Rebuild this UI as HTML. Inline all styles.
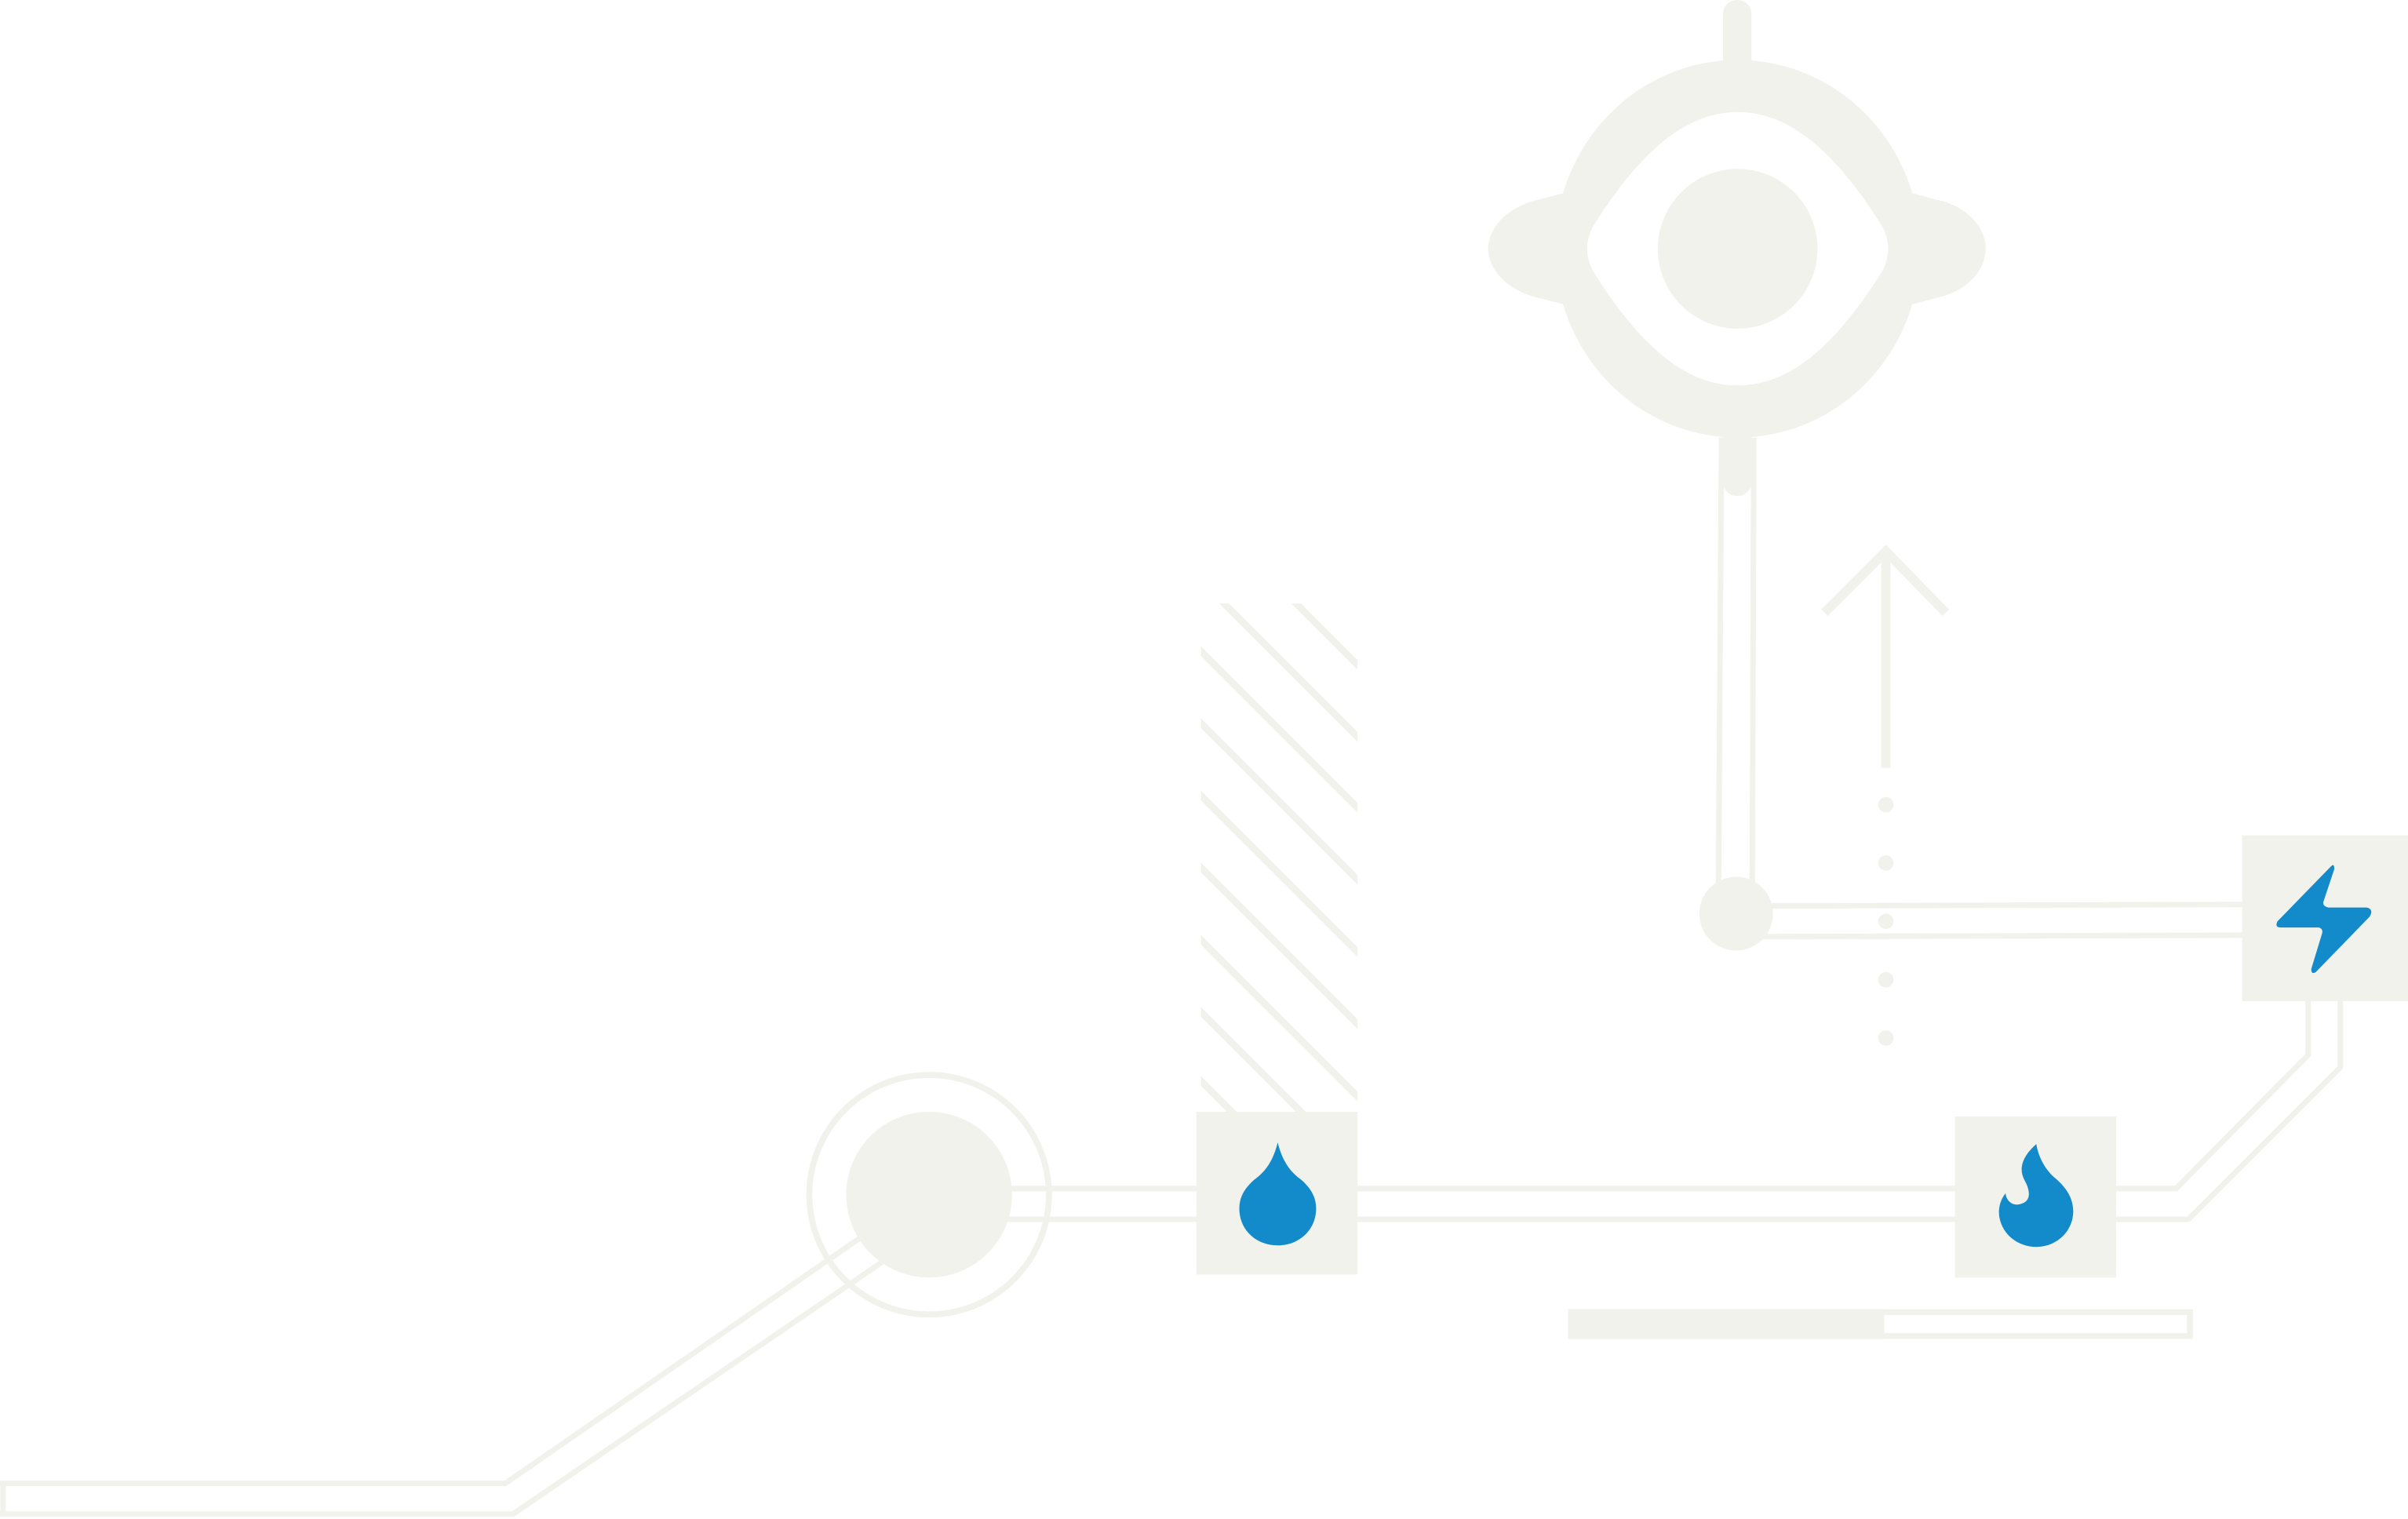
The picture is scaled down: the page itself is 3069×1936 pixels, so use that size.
<!DOCTYPE html>
<html><head><meta charset="utf-8"><style>
html,body{margin:0;padding:0;background:#fff;width:3069px;height:1936px;overflow:hidden}
svg{display:block}
</style></head><body>
<svg width="3069" height="1936" viewBox="0 0 1568 989.2" preserveAspectRatio="none" xmlns="http://www.w3.org/2000/svg">
<defs><clipPath id="hc"><rect x="782" y="393" width="102" height="331"/></clipPath></defs>
<g fill="none" stroke="#f2f2ec" stroke-width="3.6">
  <g clip-path="url(#hc)" stroke-width="4.5">
    <line x1="700" y1="249" x2="1000" y2="549"/>
    <line x1="700" y1="296" x2="1000" y2="596"/>
    <line x1="700" y1="342" x2="1000" y2="642"/>
    <line x1="700" y1="389" x2="1000" y2="689"/>
    <line x1="700" y1="436" x2="1000" y2="736"/>
    <line x1="700" y1="483" x2="1000" y2="783"/>
    <line x1="700" y1="530" x2="1000" y2="830"/>
    <line x1="700" y1="577" x2="1000" y2="877"/>
    <line x1="700" y1="622" x2="1000" y2="922"/>
    <line x1="700" y1="671" x2="1000" y2="971"/>
  </g>
  <line x1="605" y1="774" x2="1275" y2="774"/>
  <line x1="605" y1="794" x2="1275" y2="794"/>
  <polyline points="1376,774 1417,774 1503,687 1503,650"/>
  <polyline points="1376,794 1425,794 1524,695 1524,650"/>
  <polyline points="595,782 329,966 0,966"/>
  <polyline points="605,801 334,986 0,986"/>
  <line x1="2" y1="966" x2="2" y2="986"/>
  <circle cx="605" cy="778" r="78" stroke-width="4"/>
  <line x1="1121" y1="285" x2="1119" y2="580"/>
  <line x1="1142" y1="285" x2="1141" y2="580"/>
  <line x1="1140" y1="590" x2="1462" y2="589"/>
  <line x1="1125" y1="610" x2="1462" y2="609"/>
  <line x1="1228" y1="500" x2="1228" y2="362" stroke-width="6"/>
  <polyline points="1188,399 1228,359 1267,399" stroke-width="6"/>
  <rect x="1023" y="854.5" width="403" height="15.5" stroke-width="3.8"/>
</g>
<g fill="#f2f2ec">
  <circle cx="605" cy="778" r="54"/>
  <circle cx="1130.5" cy="595" r="24"/>
  <rect x="1021" y="852.5" width="206" height="19.5"/>
  <circle cx="1228" cy="524" r="5"/>
  <circle cx="1228" cy="562" r="5"/>
  <circle cx="1228" cy="600" r="5"/>
  <circle cx="1228" cy="638" r="5"/>
  <circle cx="1228" cy="676" r="5"/>
  <rect x="779" y="724" width="105" height="106"/>
  <rect x="1273" y="727" width="105" height="105"/>
  <rect x="1460" y="544" width="108" height="108"/>
  <rect x="1122" y="0" width="18.5" height="60" rx="9"/>
  <rect x="1122" y="250" width="18.5" height="73" rx="9"/>
  <path d="M1025,124 L998,131 C978,137 969,151 969,162 C969,173 978,187 998,193 L1025,200 Z"/>
  <path d="M1238,124 L1265,131 C1285,137 1293,151 1293,162 C1293,173 1285,187 1265,193 L1238,200 Z"/>
  <ellipse cx="1131.5" cy="162" rx="119" ry="123"/>
  <path fill="#fff" d="M1037,148 C1070,95 1100,73 1131.5,73 C1163,73 1193,95 1226,148 Q1233,162 1226,176 C1193,229 1163,251 1131.5,251 C1100,251 1070,229 1037,176 Q1030,162 1037,148Z"/>
  <circle cx="1131.5" cy="162" r="52"/>
</g>
<g fill="#138bcb">
  <path d="M832,744 C829,756 824,763 817,768 C810,774 807,780 807,787 C807,801 818,811 832,811 C846,811 857,801 857,787 C857,780 854,774 847,768 C840,763 835,756 832,744Z"/>
  <path d="M1326,745 C1318,752 1314,760 1318,768 C1322,775 1323,782 1316,784 C1310,786 1306,781 1306,777 C1302,782 1301,788 1302,793 C1304,804 1314,812 1326,812 C1340,812 1350,801 1350,789 C1350,779 1344,772 1338,767 C1331,761 1327,752 1326,745Z"/>
  <path d="M1518,564 L1483,600 Q1481,604 1485,604 L1510,604 Q1513,605 1512,608 L1505,631 Q1505,635 1508,633 L1543,597 Q1546,592 1541,591 L1516,591 Q1512,590 1513,587 L1520,566 Q1520,562 1518,564Z"/>
</g>
</svg>
</body></html>
